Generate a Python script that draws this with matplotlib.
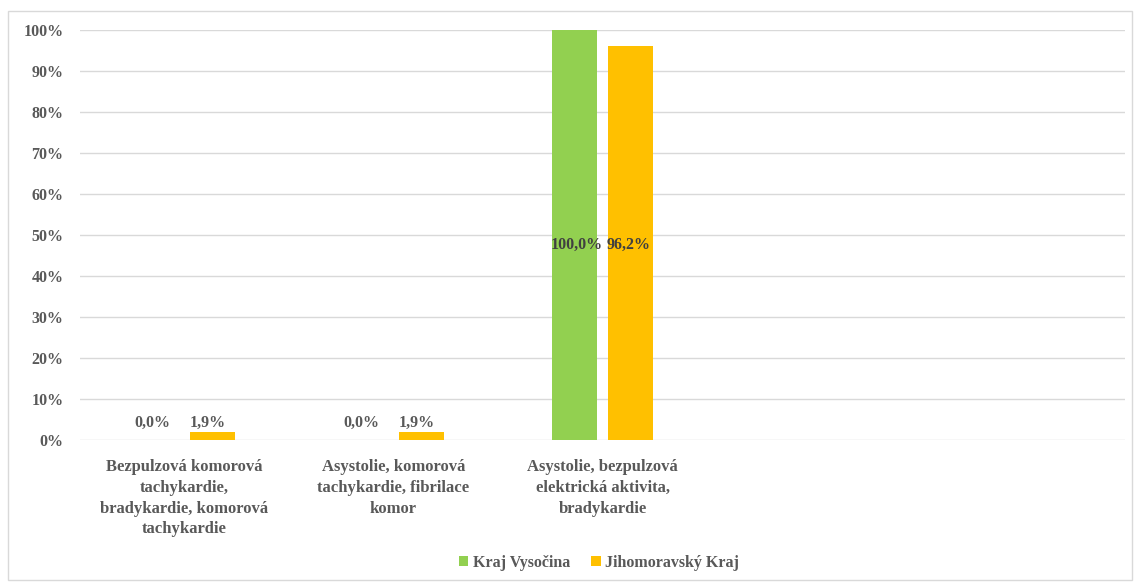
import matplotlib.pyplot as plt
import numpy as np
from matplotlib.patches import Rectangle

categories = [
    "Bezpulzová komorová\ntachykardie,\nbradykardie, komorová\ntachykardie",
    "Asystolie, komorová\ntachykardie, fibrilace\nkomor",
    "Asystolie, bezpulzová\nelektrická aktivita,\nbradykardie",
    "",
    "",
]
vysocina = [0.0, 0.0, 100.0, None, None]
jihomoravsky = [1.9, 1.9, 96.2, None, None]
series_names = ["Kraj Vysočina", "Jihomoravský Kraj"]
colors = ["#92D050", "#FFC000"]

plt.rcParams['font.family'] = ['Liberation Serif', 'DejaVu Serif']
plt.rcParams['font.weight'] = 'bold'

fig = plt.figure(figsize=(11.36, 5.83), dpi=100)
ax = fig.add_axes([80 / 1136, 1 - 440 / 583, (1125 - 80) / 1136, 410 / 583])

x = np.arange(len(categories))
width = 0.215
offset = 0.133
for vals, name, col, sign in [(vysocina, series_names[0], colors[0], -1),
                              (jihomoravsky, series_names[1], colors[1], 1)]:
    xs = [xi + sign * offset for xi, v in zip(x, vals) if v is not None]
    vs = [v for v in vals if v is not None]
    ax.bar(xs, vs, width, color=col, label=name, zorder=3)
    for xi, v in zip(xs, vs):
        txt = f"{v:.1f}%".replace(".", ",")
        if v > 50:
            ax.text(xi - 0.01 * sign, 47.5, txt, ha='center', va='center', fontsize=11.5,
                    color='#404040', zorder=4)
        else:
            ax.text(xi - 0.02, 4.1, txt, ha='center', va='center', fontsize=11.5,
                    color='#595959', zorder=4)

ax.set_xlim(-0.5, len(categories) - 0.5)
ax.set_ylim(0, 100)
ax.set_yticks(np.arange(0, 101, 10))
ax.set_yticklabels([f"{t}%" for t in range(0, 101, 10)], fontsize=11.5, color='#595959')
ax.set_xticks(x)
ax.set_xticklabels(categories, fontsize=12, color='#595959', linespacing=1.38)
ax.tick_params(length=0, pad=12)
ax.tick_params(axis='x', pad=14)
ax.grid(axis='y', color='#D9D9D9', linewidth=1, zorder=0)
for s in ax.spines.values():
    s.set_visible(False)

ax.legend(loc='center', bbox_to_anchor=(599 / 1136, 1 - 563 / 583), bbox_transform=fig.transFigure,
          ncol=2, frameon=False, fontsize=11.5, handlelength=0.6, handleheight=0.6,
          columnspacing=1.3, handletextpad=0.3, labelcolor='#595959')

fig.patches.append(Rectangle((8 / 1136, 3 / 583), 1124 / 1136, 569 / 583, transform=fig.transFigure,
                             fill=False, edgecolor='#D9D9D9', linewidth=1))

fig.savefig("out.png", dpi=100)
